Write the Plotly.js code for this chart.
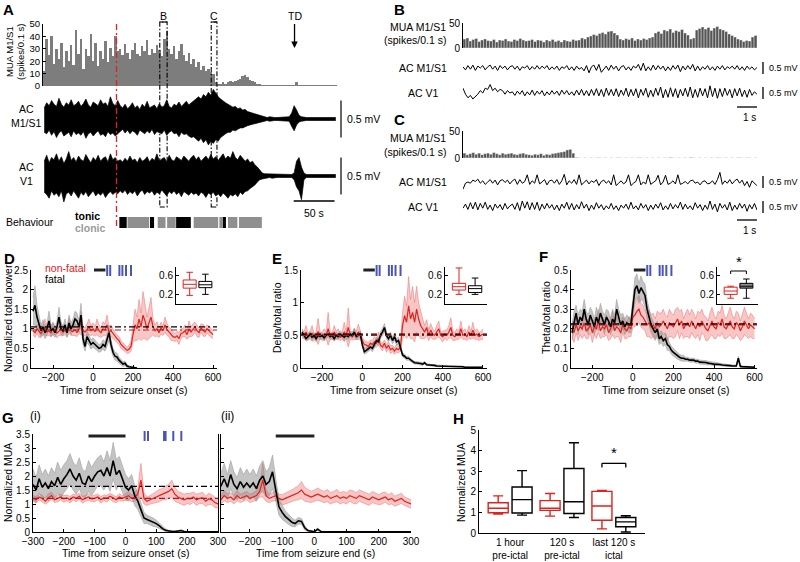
<!DOCTYPE html>
<html><head><meta charset="utf-8">
<script src="https://cdn.plot.ly/plotly-3.0.1.min.js"></script>
<style>html,body{margin:0;padding:0;background:#fff}#chart{width:800px;height:562px}</style>
</head><body><div id="chart"></div>
<script>
// ---------------- DATA ----------------
// Panel A (time in s, 3 s bins)
const A_DT = 3;
const A_onset = 90;
const A_TD = 308;
const A_winB = [143, 152];
const A_winC = [206, 213];
const A_mua = [12,38,25,40,18,30,22,35,15,28,20,33,17,45,26,38,14,30,24,42,20,35,16,28,22,36,19,31,24,40,28,
 30,25,34,27,22,29,35,26,24,32,28,37,25,30,27,33,29,24,38,44,30,26,32,22,28,34,25,20,27,18,22,15,19,13,16,12,14,11,
 10,3,2,2,3,2,3,4,3,4,5,6,8,9,7,5,4,3,
 2,1.5,1,1,0.5,1,0.5,0.5,1,0.5,0.5,0.5,1,0.5,0.5,1,3,1,0.5,0.5,0.5,0.5,0.5,0.5,0.5,0.5,0.5,1,0.5,0.5,0.5,0.5,0.5];
const A_m1_up = [0.15,0.22,0.18,0.25,0.2,0.17,0.28,0.2,0.16,0.22,0.19,0.26,0.18,0.2,0.24,0.17,0.21,0.27,0.19,0.16,0.23,0.2,0.18,0.26,0.2,0.22,0.17,0.3,0.21,0.18,0.25,
 0.18,0.15,0.2,0.14,0.17,0.22,0.15,0.18,0.13,0.2,0.16,0.24,0.15,0.17,0.19,0.14,0.21,0.16,0.18,0.26,0.17,0.15,0.2,0.18,0.23,0.17,0.2,0.24,0.19,0.22,
 0.25,0.28,0.3,0.27,0.33,0.3,0.36,0.32,0.4,0.35,0.3,0.27,0.24,0.22,0.2,
 0.18,0.16,0.17,0.14,0.15,0.12,0.13,0.1,0.09,0.08,0.06,0.05,0.04,0.03,
 0.03,0.02,0.03,0.02,0.02,0.02,0.02,0.02,0.02,0.02,0.03,0.08,0.18,0.12,0.05,0.03,0.02,0.02,0.02,0.02,0.02,0.02,0.02,0.02,0.02,0.02,0.02,0.02,0.02,0.02];
const A_m1_lo = [-0.18,-0.2,-0.15,-0.22,-0.17,-0.25,-0.19,-0.16,-0.23,-0.2,-0.18,-0.24,-0.16,-0.21,-0.19,-0.22,-0.17,-0.26,-0.2,-0.18,-0.23,-0.19,-0.16,-0.22,-0.2,-0.24,-0.17,-0.21,-0.19,-0.23,-0.2,
 -0.17,-0.14,-0.19,-0.15,-0.2,-0.16,-0.18,-0.22,-0.15,-0.17,-0.2,-0.16,-0.19,-0.14,-0.21,-0.17,-0.18,-0.2,-0.15,-0.22,-0.18,-0.16,-0.2,-0.19,-0.24,-0.18,-0.21,-0.2,-0.23,-0.25,
 -0.24,-0.27,-0.3,-0.26,-0.32,-0.28,-0.35,-0.3,-0.33,-0.28,-0.3,-0.25,-0.22,-0.2,-0.18,
 -0.18,-0.15,-0.16,-0.14,-0.12,-0.12,-0.1,-0.09,-0.08,-0.07,-0.06,-0.05,-0.04,-0.03,
 -0.03,-0.02,-0.03,-0.02,-0.02,-0.02,-0.02,-0.02,-0.02,-0.02,-0.03,-0.1,-0.16,-0.08,-0.04,-0.03,-0.02,-0.02,-0.02,-0.02,-0.02,-0.02,-0.02,-0.02,-0.02,-0.02,-0.02,-0.02,-0.02,-0.02];
const A_v1_up = [0.2,0.28,0.18,0.25,0.22,0.3,0.2,0.26,0.17,0.23,0.33,0.21,0.25,0.19,0.27,0.22,0.2,0.29,0.23,0.18,0.25,0.21,0.28,0.2,0.24,0.26,0.19,0.3,0.22,0.25,0.2,
 0.22,0.19,0.24,0.2,0.27,0.21,0.23,0.18,0.25,0.2,0.22,0.26,0.19,0.24,0.21,0.3,0.2,0.23,0.25,0.19,0.28,0.22,0.2,0.26,0.23,0.21,0.27,0.24,0.2,0.25,0.28,0.22,0.26,0.2,0.24,0.27,0.22,0.29,0.23,0.26,0.21,0.25,0.3,0.23,0.27,0.24,0.33,0.25,0.22,0.28,0.24,0.2,0.23,0.18,0.2,0.15,0.12,0.08,
 0.04,0.03,0.03,0.02,0.03,0.02,0.02,0.02,0.02,0.02,0.02,0.02,0.02,0.04,0.2,0.25,0.12,0.04,0.02,0.02,0.02,0.02,0.02,0.02,0.02,0.02,0.02,0.02,0.02,0.02,0.02];
const A_v1_lo = [-0.22,-0.25,-0.3,-0.2,-0.26,-0.23,-0.28,-0.2,-0.35,-0.24,-0.22,-0.27,-0.2,-0.25,-0.3,-0.22,-0.26,-0.21,-0.28,-0.24,-0.2,-0.27,-0.23,-0.26,-0.22,-0.29,-0.24,-0.21,-0.25,-0.22,-0.24,
 -0.2,-0.23,-0.19,-0.25,-0.21,-0.24,-0.2,-0.27,-0.22,-0.19,-0.25,-0.21,-0.23,-0.2,-0.26,-0.22,-0.24,-0.19,-0.23,-0.27,-0.21,-0.24,-0.2,-0.25,-0.22,-0.28,-0.21,-0.24,-0.26,-0.22,-0.25,-0.23,-0.27,-0.22,-0.24,-0.29,-0.23,-0.25,-0.22,-0.27,-0.24,-0.28,-0.23,-0.26,-0.3,-0.25,-0.27,-0.24,-0.28,-0.22,-0.25,-0.21,-0.2,-0.17,-0.15,-0.12,-0.08,-0.05,
 -0.04,-0.03,-0.03,-0.02,-0.03,-0.02,-0.02,-0.02,-0.02,-0.02,-0.02,-0.02,-0.02,-0.05,-0.15,-0.2,-0.32,-0.05,-0.02,-0.02,-0.02,-0.02,-0.02,-0.02,-0.02,-0.02,-0.02,-0.02,-0.02,-0.02,-0.02];
// behaviour segments (s)
const beh_start = [93.5,103.5,131,140.5,152,163,184.5,216,220,226.5,240];
const beh_end   = [102.5,130,136,150,162.5,181,214.5,219.5,224,238,268];
const beh_type  = ['tonic','clonic','tonic','clonic','clonic','tonic','clonic','clonic','tonic','clonic','clonic'];

// Panels B and C (s)
const BC_BIN = 0.147, BC_STEP = 0.1235;
const B_mua = [18,20,14,17,19,13,16,18,15,14,17,12,16,15,18,14,13,17,15,19,16,14,15,17,13,
 16,15,12,16,14,17,13,15,12,16,14,13,17,15,16,20,18,22,
 24,27,25,29,31,28,33,34,30,26,
 18,16,19,17,20,15,18,16,19,17,20,22,
 30,33,29,36,34,38,31,35,33,37,30,26,
 18,20,
 36,39,42,38,41,35,40,43,38,36,33,
 28,25,22,18,16,13,15,14,
 22,25];
const B_m1 = [0.05,-0.08,0.1,-0.05,0.12,-0.1,0.08,0.0,0.1,-0.08, 0.05,0.12,-0.05,0.08,-0.1,0.1,-0.02,0.08,-0.08,0.05, 0.1,-0.05,0.08,-0.1,0.05,0.0,0.1,-0.08,0.06,-0.05, 0.1,-0.05,0.08,-0.02,0.1,-0.08,0.05,-0.05,0.08,-0.1, 0.05,-0.02,0.1,-0.08,0.05,-0.1,0.08,-0.05,0.02,-0.12, 0.1,-0.2,0.05,0.12,-0.1,0.15,-0.18,-0.05,0.08,-0.1, 0.12,-0.05,0.08,-0.12,0.05,0.1,-0.08,0.05,-0.1,0.08, 0.0,0.15,-0.1,0.2,-0.12,0.05,-0.1,0.12,-0.08,0.1, -0.05,0.08,-0.12,0.05,-0.1,0.1,-0.05,0.12,-0.15,0.08, -0.08,0.1,-0.05,0.15,-0.12,0.08,-0.1,0.05,-0.05,0.1, -0.08,0.05,-0.1,0.08,-0.05,0.1,-0.08,0.05,-0.02,0.08, -0.05,0.1,-0.08,0.05,-0.1,0.08,-0.05,0.05,-0.08,0.02];
const B_v1 = [0.2,-0.05,-0.2,-0.1,-0.25,-0.15,-0.05,0.1,0.0,0.2, 0.15,0.35,0.1,0.2,0.05,0.15,0.1,-0.05,0.1,0.0, 0.05,-0.1,0.08,-0.05,0.1,-0.12,0.05,-0.08,0.12,-0.1, 0.08,-0.05,0.1,-0.12,0.05,-0.08,0.1,-0.05,0.08,-0.1, 0.12,-0.05,0.1,-0.08,0.05,-0.1,0.12,-0.08,0.15,-0.1, 0.1,-0.12,0.15,-0.1,0.18,-0.12,0.15,-0.15,0.2,-0.1, 0.15,-0.12,0.18,-0.15,0.12,-0.1,0.2,-0.15,0.15,-0.12, 0.18,-0.2,0.15,-0.1,0.2,-0.18,0.12,-0.15,0.2,-0.1, 0.25,-0.2,0.15,-0.18,0.22,-0.15,0.18,-0.2,0.15,-0.12, 0.2,-0.15,0.25,-0.2,0.15,-0.18,0.2,-0.12,0.18,-0.2, 0.3,-0.15,0.2,-0.22,0.18,-0.15,0.2,-0.1,0.15,-0.2, 0.18,-0.12,0.2,-0.15,0.12,-0.18,0.15,-0.1,0.05,-0.05];
const C_mua = [9,6,8,10,7,9,6,8,9,7,10,8,6,9,7,8,9,7,6,8,9,7,6,5,7,6,8,5,7,6,8,9,10,11,12,15,16,9,
 1,0.5,0,0.5,0,0.5,0,0.5,0.5,0, 0.5,0,0.5,0,0.5,0.5,0,0.5,0,0.5, 0,0.5,0.5,0,0.5,0,0.5,0,0.5,0, 0.5,0,1,0.5,0,0.5,0,0.5,0,1, 0.5,0,0.5,0,0.5,0,0.5,0,0.5,0.5, 0,0.5,0,0.5,0,0.5,0.5,0,0.5,0.5, 0,0.5];
const C_m1 = [-0.3,-0.05,0.0,-0.05,0.08,0.02,0.12,-0.05,0.05,-0.1, 0.0,0.1,-0.05,0.08,-0.12,0.05,0.1,-0.02,0.08,-0.08, 0.05,0.12,-0.1,0.1,-0.05,0.02,0.3,-0.1,0.05,-0.05, 0.3,-0.08,0.0,0.1,-0.12,0.05,0.08,-0.05,0.1,-0.1, 0.05,0.32,-0.12,0.05,-0.05,0.1,-0.1,0.3,-0.12,0.0, 0.08,-0.08,0.05,-0.02,0.1,-0.15,0.02,0.08,-0.05,0.05, -0.12,0.3,-0.15,-0.05,0.05,-0.08,0.0,0.3,-0.15,-0.05, 0.02,0.3,-0.12,0.0,-0.08,0.3,-0.1,-0.02,0.05,0.28, -0.12,0.0,0.28,-0.1,-0.05,0.05,-0.08,0.3,-0.1,-0.05, 0.02,-0.08,0.05,0.08,-0.05,0.0,-0.12,0.02,0.05,-0.08, -0.05,0.05,-0.1,0.1,0.4,-0.1,0.05,-0.05,0.1,-0.08, 0.05,0.12,-0.05,0.08,-0.15,0.02,-0.22,0.05,-0.05,-0.15];
const C_v1 = [-0.05,0.12,-0.1,0.18,-0.08,0.2,-0.12,0.15,-0.05,0.2, -0.1,0.08,-0.15,0.12,-0.05,0.1,-0.12,0.15,-0.08,0.05, 0.12,-0.1,0.18,-0.15,0.25,-0.05,0.22,-0.12,0.18,-0.1, 0.2,-0.15,0.12,-0.08,0.15,-0.05,0.1,-0.12,0.08,-0.15, 0.12,-0.05,0.2,-0.1,0.15,-0.12,0.1,-0.08,0.22,-0.05, 0.12,-0.15,0.08,-0.1,0.18,-0.05,0.1,-0.12,0.05,-0.08, 0.15,-0.1,0.05,-0.15,0.08,-0.05,0.12,-0.1,0.2,-0.08, 0.05,-0.12,0.15,-0.05,0.1,-0.15,0.08,-0.1,0.12,-0.05, 0.18,-0.12,0.05,-0.1,0.15,-0.08,0.1,-0.05,0.2,-0.1, 0.12,-0.08,0.05,-0.12,0.18,-0.05,0.1,-0.15,0.08,-0.1, 0.25,-0.1,0.12,-0.2,0.15,-0.05,0.1,-0.12,0.2,-0.15, 0.08,-0.1,0.15,-0.05,0.12,-0.18,0.1,-0.08,0.15,-0.12];
const C_tri = [3.2,3.65,5.0,5.75,7.5,8.2,8.7,9.2,9.7,10.05,10.75,12.8];

// Panels D-F (t = -300..600 s every 10 s)
const D_red_mean = [0.95,0.9,1.0,0.93,0.88,0.97,1.05,0.92,0.95,0.9,1.02,0.96,0.89,0.94,1.0,0.92,0.97,0.9,1.08,0.95,0.93,0.98,0.9,1.0,1.15,0.95,0.92,0.98,1.05,0.95,
 1.0,0.93,1.05,0.95,0.9,1.0,0.97,1.1,0.92,0.95,
 0.88,0.8,0.75,0.7,0.6,0.55,0.5,0.45,0.48,0.55,
 0.85,1.1,1.0,1.25,1.05,1.35,1.2,1.0,1.15,1.3,
 1.05,0.95,1.0,0.9,1.02,0.95,1.1,0.98,0.92,0.85,0.8,0.78,0.82,0.75,0.88,0.9,0.95,0.85,1.0,0.92,0.98,1.05,0.95,0.9,1.02,0.97,0.92,1.0,0.95,0.9,0.85];
const D_red_err = [0.1,0.12,0.1,0.15,0.1,0.12,0.2,0.1,0.12,0.1,0.15,0.1,0.12,0.1,0.18,0.1,0.12,0.1,0.2,0.12,0.1,0.15,0.1,0.12,0.3,0.12,0.1,0.15,0.2,0.12,
 0.15,0.12,0.2,0.15,0.12,0.18,0.15,0.25,0.12,0.15,
 0.12,0.1,0.1,0.1,0.1,0.08,0.08,0.08,0.1,0.12,
 0.2,0.4,0.3,0.5,0.35,0.6,0.45,0.3,0.4,0.5,
 0.2,0.15,0.18,0.12,0.15,0.12,0.2,0.15,0.12,0.15,0.12,0.1,0.12,0.15,0.12,0.1,0.15,0.12,0.2,0.12,0.15,0.12,0.15,0.12,0.1,0.15,0.12,0.1,0.12,0.1,0.1];
const D_blk_mean = [1.45,1.6,1.3,1.1,0.95,1.05,0.9,1.0,1.2,0.95,1.0,0.9,1.05,1.3,1.0,0.95,1.1,0.9,1.15,1.0,1.1,1.25,1.2,1.05,1.35,0.75,0.55,0.8,0.7,0.6,
 0.65,0.6,0.55,0.5,0.52,0.6,0.55,0.7,0.9,0.6,0.4,0.3,0.28,0.2,0.15,0.1,0.12,0.05,0.03,0.02,0.01,0,0];
const D_blk_err = [0.35,0.5,0.3,0.2,0.15,0.18,0.15,0.15,0.25,0.15,0.15,0.12,0.15,0.25,0.15,0.12,0.15,0.12,0.2,0.15,0.15,0.2,0.2,0.15,0.3,0.15,0.12,0.15,0.12,0.12,
 0.12,0.1,0.1,0.1,0.1,0.12,0.12,0.15,0.2,0.12,0.1,0.1,0.1,0.08,0.08,0.06,0.06,0.04,0.03,0.02,0.01,0,0];
const E_red_mean = [0.52,0.5,0.55,0.48,0.5,0.53,0.47,0.5,0.56,0.5,0.48,0.52,0.5,0.6,0.5,0.48,0.55,0.5,0.52,0.47,0.5,0.55,0.5,0.62,0.5,0.48,0.52,0.5,0.55,0.5,
 0.42,0.36,0.35,0.33,0.38,0.36,0.4,0.38,0.45,0.35,0.32,0.38,0.3,0.35,0.28,0.3,0.26,0.3,0.28,0.32,
 0.65,0.8,0.7,0.95,0.75,0.85,0.7,0.9,0.75,0.65,
 0.6,0.55,0.62,0.5,0.58,0.52,0.5,0.55,0.6,0.5,0.48,0.52,0.5,0.55,0.62,0.5,0.48,0.52,0.5,0.6,0.5,0.52,0.48,0.55,0.5,0.58,0.5,0.52,0.48,0.5,0.52];
const E_red_err = [0.06,0.05,0.1,0.05,0.06,0.12,0.05,0.06,0.2,0.05,0.06,0.08,0.05,0.25,0.06,0.05,0.1,0.06,0.08,0.05,0.06,0.15,0.05,0.3,0.06,0.05,0.08,0.06,0.12,0.05,
 0.05,0.06,0.05,0.06,0.05,0.06,0.08,0.06,0.1,0.05,0.06,0.05,0.06,0.05,0.06,0.05,0.05,0.06,0.05,0.06,
 0.2,0.3,0.25,0.45,0.3,0.4,0.3,0.35,0.25,0.2,
 0.15,0.1,0.12,0.08,0.1,0.08,0.06,0.1,0.12,0.06,0.08,0.06,0.08,0.1,0.15,0.08,0.06,0.08,0.06,0.12,0.06,0.08,0.06,0.1,0.06,0.12,0.06,0.08,0.06,0.06,0.08];
const E_blk_mean = [0.55,0.5,0.45,0.48,0.52,0.47,0.5,0.45,0.5,0.48,0.5,0.46,0.5,0.52,0.48,0.5,0.45,0.5,0.48,0.52,0.5,0.47,0.5,0.48,0.52,0.5,0.55,0.48,0.5,0.52,
 0.35,0.25,0.27,0.3,0.32,0.3,0.35,0.42,0.4,0.5,0.55,0.62,0.5,0.45,0.5,0.42,0.48,0.4,0.42,0.3,
 0.2,0.18,0.15,0.15,0.12,0.1,0.08,0.08,0.07,0.07,
 0.06,0.08,0.05,0.05,0.04,0.04,0.04,0.03,0.03,0.03,0.03,0.03,0.02,0.02,0.02,0.02,0.02,0.02,0.02,0.02,0.02,0.01,0.01,0.01,0.01,0.01,0.01,0.01,0.01,0.01,0.01];
const E_blk_err = [0.05,0.05,0.04,0.05,0.04,0.05,0.04,0.05,0.04,0.05,0.04,0.05,0.04,0.05,0.04,0.05,0.04,0.05,0.04,0.05,0.04,0.05,0.04,0.05,0.04,0.05,0.06,0.05,0.04,0.05,
 0.04,0.04,0.04,0.05,0.04,0.05,0.05,0.05,0.05,0.05,0.06,0.06,0.05,0.05,0.05,0.05,0.05,0.05,0.05,0.04,
 0.03,0.03,0.03,0.03,0.02,0.02,0.02,0.02,0.02,0.02,
 0.02,0.02,0.015,0.015,0.01,0.01,0.01,0.01,0.01,0.01,0.01,0.01,0.01,0.01,0.01,0.01,0.01,0.01,0.01,0.01,0.01,0.005,0.005,0.005,0.005,0.005,0.005,0.005,0.005,0.005,0.005];
const F_red_mean = [0.2,0.18,0.22,0.19,0.21,0.2,0.23,0.19,0.2,0.22,0.18,0.21,0.2,0.24,0.19,0.21,0.2,0.22,0.18,0.2,0.23,0.19,0.21,0.2,0.18,0.22,0.2,0.19,0.21,0.2,
 0.26,0.27,0.29,0.3,0.27,0.26,0.24,0.22,0.23,0.21,0.22,0.2,0.23,0.21,0.22,0.24,0.22,0.2,0.23,0.22,
 0.21,0.23,0.25,0.22,0.24,0.2,0.22,0.23,0.21,0.24,
 0.22,0.2,0.23,0.21,0.24,0.22,0.2,0.19,0.22,0.24,0.21,0.2,0.23,0.22,0.25,0.21,0.2,0.22,0.24,0.21,0.2,0.23,0.22,0.19,0.21,0.24,0.22,0.2,0.22,0.21,0.2];
const F_red_err = [0.04,0.05,0.04,0.05,0.04,0.05,0.06,0.04,0.05,0.04,0.05,0.04,0.05,0.06,0.04,0.05,0.04,0.05,0.04,0.05,0.06,0.04,0.05,0.04,0.05,0.04,0.05,0.04,0.05,0.04,
 0.05,0.06,0.06,0.07,0.06,0.06,0.05,0.06,0.07,0.06,0.06,0.05,0.06,0.07,0.06,0.06,0.05,0.06,0.07,0.06,
 0.06,0.07,0.06,0.07,0.06,0.05,0.06,0.07,0.06,0.06,
 0.06,0.05,0.06,0.07,0.06,0.05,0.06,0.05,0.06,0.07,0.06,0.05,0.06,0.06,0.07,0.06,0.05,0.06,0.07,0.06,0.05,0.06,0.06,0.05,0.06,0.07,0.06,0.05,0.06,0.06,0.05];
const F_blk_mean = [0.18,0.24,0.28,0.22,0.26,0.24,0.3,0.25,0.22,0.27,0.24,0.21,0.26,0.23,0.28,0.25,0.22,0.26,0.24,0.21,0.25,0.23,0.3,0.26,0.22,0.24,0.21,0.23,0.22,0.22,
 0.3,0.4,0.42,0.38,0.41,0.39,0.37,0.3,0.26,0.22,0.2,0.18,0.2,0.15,0.16,0.14,0.15,0.12,0.11,0.09,
 0.08,0.07,0.06,0.055,0.05,0.05,0.045,0.045,0.04,0.04,
 0.04,0.035,0.035,0.03,0.03,0.03,0.028,0.025,0.025,0.022,0.02,0.02,0.018,0.018,0.015,0.015,0.013,0.012,0.012,0.01,0.01,0.01,0.05,0.008,0.007,0.006,0.006,0.005,0.005,0.005,0.004];
const F_blk_err = [0.04,0.05,0.04,0.05,0.04,0.05,0.05,0.04,0.05,0.04,0.05,0.04,0.05,0.04,0.05,0.04,0.05,0.04,0.05,0.04,0.05,0.04,0.05,0.04,0.05,0.04,0.04,0.04,0.04,0.04,
 0.05,0.06,0.06,0.05,0.06,0.05,0.06,0.05,0.04,0.04,0.04,0.04,0.04,0.03,0.03,0.03,0.03,0.03,0.02,0.02,
 0.02,0.02,0.015,0.015,0.015,0.015,0.01,0.01,0.01,0.01,
 0.01,0.01,0.01,0.01,0.01,0.01,0.01,0.01,0.008,0.008,0.008,0.008,0.006,0.006,0.006,0.005,0.005,0.005,0.005,0.005,0.004,0.004,0.01,0.004,0.003,0.003,0.003,0.003,0.003,0.003,0.003];
const D_base = {fatal: 1.05, nonfatal: 0.97};
const E_base = {fatal: 0.52, nonfatal: 0.5};
const F_base = {fatal: 0.225, nonfatal: 0.22};
const DEF_window = [5, 62];
const DEF_deaths = [71, 86, 132, 147, 165, 190];
// inset boxes [non-fatal, fatal]: lowerfence, q1, median, q3, upperfence
const D_box = {lo:[0.18,0.2], q1:[0.33,0.34], med:[0.41,0.4], q3:[0.5,0.47], hi:[0.66,0.62]};
const E_box = {lo:[0.2,0.2], q1:[0.29,0.24], med:[0.36,0.32], q3:[0.43,0.38], hi:[0.75,0.54]};
const F_box = {lo:[0.12,0.12], q1:[0.2,0.33], med:[0.27,0.37], q3:[0.35,0.43], hi:[0.37,0.52]};

// Panel G (t = -300..300 s every 10 s)
const Gi_blk_mean = [1.7,1.5,1.9,1.6,1.75,1.55,1.8,1.65,1.95,1.7, 1.9,2.05,2.25,2.0,1.85,2.1,1.75,1.7,2.0,1.8, 2.0,2.15,2.2,2.0,2.3,2.0,2.55,2.05,2.2,1.9, 1.6,1.5,1.65,1.3,1.1,0.8,0.5,0.45,0.4,0.35, 0.3,0.22,0.12,0.06,0.03,0.02,0.02,0.03,0.05,0.02, 0.01,0.01,0.01,0.01,0.01,0.01,0.01,0.01,0.01,0.01,0.01];
const Gi_blk_err = [0.55,0.45,0.5,0.45,0.5,0.45,0.5,0.45,0.55,0.5, 0.5,0.5,0.55,0.5,0.5,0.55,0.5,0.45,0.55,0.5, 0.5,0.5,0.55,0.5,0.6,0.55,0.65,0.55,0.5,0.5, 0.45,0.4,0.4,0.35,0.3,0.25,0.2,0.15,0.15,0.15, 0.12,0.1,0.08,0.05,0.03,0.02,0.02,0.02,0.03,0.02, 0.01,0.01,0.01,0.01,0.01,0.01,0.01,0.01,0.01,0.01,0.01];
const Gi_red_mean = [1.2,1.15,1.25,1.2,1.1,1.22,1.3,1.15,1.2,1.25, 1.18,1.22,1.15,1.25,1.2,1.28,1.15,1.2,1.25,1.18, 1.2,1.25,1.15,1.22,1.2,1.28,1.2,1.15,1.25,1.2, 1.25,1.3,1.2,1.25,1.35,1.85,1.2,1.1,1.15,1.2, 1.25,1.3,1.35,1.4,1.45,1.55,1.35,1.25,1.2,1.15, 1.2,1.18,1.25,1.15,1.2,1.22,1.1,1.18,1.15,1.05,1.0];
const Gi_red_err = [0.1,0.12,0.1,0.12,0.1,0.15,0.12,0.1,0.12,0.1, 0.12,0.1,0.12,0.1,0.12,0.1,0.12,0.1,0.12,0.1, 0.12,0.1,0.12,0.1,0.12,0.1,0.12,0.1,0.12,0.1, 0.12,0.15,0.12,0.15,0.2,0.6,0.2,0.15,0.15,0.18, 0.2,0.22,0.2,0.25,0.25,0.3,0.25,0.2,0.2,0.2, 0.18,0.2,0.18,0.2,0.18,0.2,0.18,0.2,0.18,0.18,0.15];
const Gii_blk_mean = [1.7,1.65,1.9,1.6,2.05,1.7,1.55,1.8,1.6,1.75, 1.6,1.75,1.55,1.85,2.0,1.7,1.8,2.15,1.5,0.9, 0.7,0.55,0.45,0.35,0.3,0.4,0.38,0.15,0.05,0.02, 0.01,0.1,0.02,0.01,0.01,0.01,0.01,0.01,0.01,0.01, 0.01,0.01,0.01,0.01,0.01,0.01,0.01,0.01,0.01,0.01, 0.01,0.01,0.01,0.01,0.01,0.01,0.01,0.01,0.01,0.01,0.01];
const Gii_blk_err = [0.5,0.45,0.55,0.45,0.5,0.45,0.4,0.5,0.45,0.5, 0.45,0.5,0.45,0.5,0.55,0.45,0.5,0.6,0.4,0.3, 0.25,0.2,0.18,0.15,0.12,0.12,0.1,0.08,0.03,0.02, 0.01,0.05,0.01,0.01,0.01,0.01,0.01,0.01,0.01,0.01, 0.01,0.01,0.01,0.01,0.01,0.01,0.01,0.01,0.01,0.01, 0.01,0.01,0.01,0.01,0.01,0.01,0.01,0.01,0.01,0.01,0.01];
const Gii_red_mean = [1.2,1.15,1.3,1.2,1.25,1.15,1.3,1.2,1.25,1.3, 1.2,1.25,1.3,1.45,1.85,1.3,1.2,1.25,1.3,1.2, 1.15,1.2,1.25,1.3,1.35,1.4,1.5,1.35,1.3,1.25, 1.3,1.35,1.3,1.25,1.3,1.2,1.25,1.3,1.2,1.25, 1.2,1.3,1.25,1.2,1.3,1.25,1.2,1.15,1.25,1.2, 1.15,1.2,1.25,1.15,1.2,1.1,1.15,1.2,1.1,1.05,1.0];
const Gii_red_err = [0.15,0.15,0.18,0.15,0.15,0.15,0.18,0.15,0.15,0.15, 0.15,0.15,0.18,0.2,0.6,0.2,0.15,0.15,0.18,0.15, 0.18,0.2,0.2,0.2,0.22,0.25,0.3,0.25,0.22,0.2, 0.2,0.22,0.2,0.2,0.22,0.2,0.2,0.22,0.2,0.2, 0.2,0.2,0.22,0.2,0.2,0.2,0.18,0.2,0.2,0.18, 0.18,0.2,0.18,0.18,0.2,0.18,0.18,0.18,0.15,0.15,0.15];
const Gi_base = {fatal: 1.63, nonfatal: 1.2};
const G_window = [-120, 0];
const G_deaths = [62, 73, 125, 130, 155, 181];

// Panel H
const H_cats = ['1 hour<br>pre-ictal', '120 s<br>pre-ictal', 'last 120 s<br>ictal'];
const H_red = {lo:[0.92,0.82,0.2], q1:[0.98,1.1,0.62], med:[1.2,1.2,1.31], q3:[1.47,1.57,2.02], hi:[1.8,1.92,2.07]};
const H_blk = {lo:[0.87,0.75,0.05], q1:[0.97,0.95,0.3], med:[1.62,1.52,0.54], q3:[2.23,3.13,0.75], hi:[3.03,4.38,0.84]};

// ---------------- DRAWING ----------------
const FONT = 'Liberation Sans, Arial, Helvetica, sans-serif';
const RED = '#e3201b', RED_BAND = 'rgba(238,105,105,0.38)', RED_EDGE = 'rgba(236,120,120,0.9)';
const GRAY_BAND = 'rgba(125,125,125,0.45)', GRAY_EDGE = '#a0a0a0';
const BLUE = '#4a55b5';
const X = p => p / 800, Y = p => 1 - p / 562;
const hd = (a, b) => [X(a), X(b)];
const vd = (top, bot) => [Y(bot), Y(top)];

const traces = [];
const tA = A_mua.map((_, i) => i * A_DT + A_DT / 2);
const tBbin = B_mua.map((_, i) => (i + 0.5) * BC_BIN);
const tBtr = B_m1.map((_, i) => i * BC_STEP);
const tDEF = D_red_mean.map((_, i) => -300 + 10 * i);
const tG = Gi_blk_mean.map((_, i) => -300 + 10 * i);

function env(x, up, lo, xa, ya) {
  traces.push({type:'scatter', mode:'lines', x:x, y:up, xaxis:xa, yaxis:ya, line:{color:'#000', width:0.7}, hoverinfo:'skip'});
  traces.push({type:'scatter', mode:'lines', x:x, y:lo, xaxis:xa, yaxis:ya, line:{color:'#000', width:0.7}, fill:'tonexty', fillcolor:'#000', hoverinfo:'skip'});
}
function band(x, m, e, xa, ya, fc, ec) {
  const up = m.map((v, i) => v + e[i]), lo = m.map((v, i) => v - e[i]);
  traces.push({type:'scatter', mode:'lines', x:x, y:up, xaxis:xa, yaxis:ya, line:{color:ec, width:0.6}, hoverinfo:'skip'});
  traces.push({type:'scatter', mode:'lines', x:x, y:lo, xaxis:xa, yaxis:ya, line:{color:ec, width:0.6}, fill:'tonexty', fillcolor:fc, hoverinfo:'skip'});
}
function line(x, y, xa, ya, c, w) {
  traces.push({type:'scatter', mode:'lines', x:x, y:y, xaxis:xa, yaxis:ya, line:{color:c, width:w}, hoverinfo:'skip'});
}
function boxes(pos, b, idx, xa, ya, c, fill, w, lw) {
  traces.push({type:'box', orientation:'v', x:pos, q1:idx.map(i=>b.q1[i]), median:idx.map(i=>b.med[i]), q3:idx.map(i=>b.q3[i]),
    lowerfence:idx.map(i=>b.lo[i]), upperfence:idx.map(i=>b.hi[i]), width:w, whiskerwidth:0.5, boxpoints:false,
    line:{color:c, width:lw}, fillcolor:fill, xaxis:xa, yaxis:ya, hoverinfo:'skip'});
}

// A
traces.push({type:'bar', x:tA, y:A_mua, width:A_DT, marker:{color:'#7d7d7d', line:{width:0}}, xaxis:'x', yaxis:'y', hoverinfo:'skip'});
env(tA, A_m1_up, A_m1_lo, 'x', 'y2');
env(tA, A_v1_up, A_v1_lo, 'x', 'y3');
// B
traces.push({type:'bar', x:tBbin, y:B_mua, width:BC_BIN, marker:{color:'#555', line:{width:0.4, color:'#fff'}}, xaxis:'x2', yaxis:'y4', hoverinfo:'skip'});
line(tBtr, B_m1, 'x2', 'y5', '#000', 1);
line(tBtr, B_v1, 'x2', 'y6', '#000', 1);
// C
traces.push({type:'bar', x:tBbin, y:C_mua, width:BC_BIN, marker:{color:'#555', line:{width:0.4, color:'#fff'}}, xaxis:'x3', yaxis:'y7', hoverinfo:'skip'});
line(tBtr, C_m1, 'x3', 'y8', '#000', 1);
line(tBtr, C_v1, 'x3', 'y9', '#000', 1);
traces.push({type:'scatter', mode:'markers', x:C_tri, y:C_tri.map(() => 0.85), xaxis:'x3', yaxis:'y8', cliponaxis:false,
  marker:{symbol:'triangle-down', size:6, color:'#000'}, hoverinfo:'skip'});
// D E F
const tDblk = tDEF.slice(0, D_blk_mean.length);
band(tDEF, D_red_mean, D_red_err, 'x4', 'y10', RED_BAND, RED_EDGE);
band(tDblk, D_blk_mean, D_blk_err, 'x4', 'y10', GRAY_BAND, GRAY_EDGE);
line(tDEF, D_red_mean, 'x4', 'y10', RED, 1.2);
line(tDblk, D_blk_mean, 'x4', 'y10', '#000', 1.6);
band(tDEF, E_red_mean, E_red_err, 'x5', 'y11', RED_BAND, RED_EDGE);
band(tDEF, E_blk_mean, E_blk_err, 'x5', 'y11', GRAY_BAND, GRAY_EDGE);
line(tDEF, E_red_mean, 'x5', 'y11', RED, 1.2);
line(tDEF, E_blk_mean, 'x5', 'y11', '#000', 1.6);
band(tDEF, F_red_mean, F_red_err, 'x6', 'y12', RED_BAND, RED_EDGE);
band(tDEF, F_blk_mean, F_blk_err, 'x6', 'y12', GRAY_BAND, GRAY_EDGE);
line(tDEF, F_red_mean, 'x6', 'y12', RED, 1.2);
line(tDEF, F_blk_mean, 'x6', 'y12', '#000', 1.6);
// insets
const INS_POS = [1.0, 2.15];
[[D_box,'x7','y13','#fff'],[E_box,'x8','y14','#fff'],[F_box,'x9','y15','#8e8e8e']].forEach(([b, xa, ya, bf]) => {
  boxes([INS_POS[0]], b, [0], xa, ya, RED, '#fff', 0.95, 1);
  boxes([INS_POS[1]], b, [1], xa, ya, '#000', bf, 0.95, 1);
});
// G
band(tG, Gi_red_mean, Gi_red_err, 'x10', 'y16', RED_BAND, RED_EDGE);
band(tG, Gi_blk_mean, Gi_blk_err, 'x10', 'y16', GRAY_BAND, GRAY_EDGE);
line(tG, Gi_red_mean, 'x10', 'y16', RED, 1.2);
line(tG, Gi_blk_mean, 'x10', 'y16', '#000', 1.6);
band(tG, Gii_red_mean, Gii_red_err, 'x11', 'y17', RED_BAND, RED_EDGE);
band(tG, Gii_blk_mean, Gii_blk_err, 'x11', 'y17', GRAY_BAND, GRAY_EDGE);
line(tG, Gii_red_mean, 'x11', 'y17', RED, 1.2);
line(tG, Gii_blk_mean, 'x11', 'y17', '#000', 1.6);
// H
const H_pos = [1, 2, 3], H_OFF = 0.23;
boxes(H_pos.map(p => p - H_OFF), H_red, [0,1,2], 'x12', 'y18', RED, 'rgba(255,255,255,0)', 0.386, 1.4);
boxes(H_pos.map(p => p + H_OFF), H_blk, [0,1,2], 'x12', 'y18', '#000', 'rgba(255,255,255,0)', 0.386, 1.4);

// ---------------- LAYOUT ----------------
function ax(o) {
  return Object.assign({showgrid:false, zeroline:false, showline:true, linecolor:'#000', linewidth:1, ticks:'inside', ticklen:3,
    tickcolor:'#000', tickfont:{family:FONT, size:10, color:'#000'}, fixedrange:true}, o);
}
const hid = o => Object.assign({visible:false, fixedrange:true}, o);

const layout = {
  width:800, height:562, margin:{l:0, r:0, t:0, b:0}, paper_bgcolor:'#fff', plot_bgcolor:'rgba(0,0,0,0)',
  showlegend:false, bargap:0, font:{family:FONT, size:10, color:'#000'},
  xaxis: hid({domain:hd(43,337), range:[0,360], anchor:'y'}),
  yaxis: ax({domain:vd(24,86), range:[0,50], tickvals:[0,10,20,30,40,50], anchor:'x', tickfont:{family:FONT, size:9.5, color:'#000'}}),
  yaxis2: hid({domain:vd(82,156), range:[-0.5,0.5], anchor:'x'}),
  yaxis3: hid({domain:vd(139,213), range:[-0.5,0.5], anchor:'x'}),
  xaxis2: hid({domain:hd(463,757), range:[0,14.7], anchor:'y4'}),
  yaxis4: ax({domain:vd(23,48), range:[0,50], tickvals:[0,50], anchor:'x2'}),
  yaxis5: hid({domain:vd(50,86), range:[-0.75,0.75], anchor:'x2'}),
  yaxis6: hid({domain:vd(75,111), range:[-0.75,0.75], anchor:'x2'}),
  xaxis3: hid({domain:hd(463,757), range:[0,14.7], anchor:'y7'}),
  yaxis7: ax({domain:vd(131,158), range:[0,50], tickvals:[0,50], anchor:'x3'}),
  yaxis8: hid({domain:vd(164,200), range:[-0.75,0.75], anchor:'x3'}),
  yaxis9: hid({domain:vd(189,225), range:[-0.75,0.75], anchor:'x3'}),
  xaxis4: ax({domain:hd(31,217), range:[-310,620], tickvals:[-200,0,200,400,600], anchor:'y10'}),
  yaxis10: ax({domain:vd(270,368), range:[0,2.5], dtick:0.5, anchor:'x4'}),
  xaxis5: ax({domain:hd(301,487), range:[-305,620], tickvals:[-200,0,200,400,600], anchor:'y11'}),
  yaxis11: ax({domain:vd(270,368), range:[0,1.5], dtick:0.5, anchor:'x5'}),
  xaxis6: ax({domain:hd(571,757), range:[-305,612], tickvals:[-200,0,200,400,600], anchor:'y12'}),
  yaxis12: ax({domain:vd(270,368), range:[0,0.5], dtick:0.1, anchor:'x6'}),
  xaxis7: ax({domain:hd(176,217), range:[0,3], ticks:'', showticklabels:false, anchor:'y13'}),
  yaxis13: ax({domain:vd(267,304), range:[0,0.77], tickvals:[0.2,0.6], anchor:'x7'}),
  xaxis8: ax({domain:hd(445,487), range:[0,3], ticks:'', showticklabels:false, anchor:'y14'}),
  yaxis14: ax({domain:vd(267,304), range:[0,0.77], tickvals:[0.2,0.6], anchor:'x8'}),
  xaxis9: ax({domain:hd(717,758), range:[0,3], ticks:'', showticklabels:false, anchor:'y15'}),
  yaxis15: ax({domain:vd(267,304), range:[0,0.77], tickvals:[0.2,0.6], anchor:'x9'}),
  xaxis10: ax({domain:hd(33,218), range:[-300,300], dtick:100, anchor:'y16'}),
  yaxis16: ax({domain:vd(434,532), range:[0,3.5], dtick:0.5, mirror:true, anchor:'x10'}),
  xaxis11: ax({domain:hd(221,411), range:[-290,300], tickvals:[-200,-100,0,100,200,300], anchor:'y17'}),
  yaxis17: ax({domain:vd(434,532), range:[0,3.5], dtick:0.5, showticklabels:false, anchor:'x11'}),
  xaxis12: ax({domain:hd(479,645), range:[0.4,3.6], tickvals:H_pos, ticktext:H_cats, ticks:'', anchor:'y18'}),
  yaxis18: ax({domain:vd(430,533), range:[0,5], dtick:1, anchor:'x12'}),
  annotations: [], shapes: []
};

const A = layout.annotations, S = layout.shapes;
function txt(t, x, y, o) {
  A.push(Object.assign({text:t, xref:'paper', yref:'paper', x:X(x), y:Y(y), xanchor:'center', yanchor:'middle', showarrow:false,
    font:{family:FONT, size:10.5, color:'#000'}}, o || {}));
}
function hline(xref, x0, x1, yp, c, w, dash) { S.push({type:'line', xref:xref, yref:'paper', x0:x0, x1:x1, y0:Y(yp), y1:Y(yp), line:{color:c, width:w, dash:dash||'solid'}}); }
function vline(xref, xv, y0p, y1p, c, w, dash) { S.push({type:'line', xref:xref, yref:'paper', x0:xv, x1:xv, y0:Y(y0p), y1:Y(y1p), line:{color:c, width:w, dash:dash||'solid'}}); }

// panel letters
[['A',8,9],['B',399,9],['C',399,120],['D',9,258],['E',277,258],['F',543,256],['G',8,417],['H',458,418]].forEach(([l,x,y]) =>
  txt('<b>'+l+'</b>', x, y, {font:{family:FONT, size:15, color:'#000'}}));
txt('(i)', 35, 416, {font:{family:FONT, size:12}});
txt('(ii)', 227, 416, {font:{family:FONT, size:12}});

// A annotations
txt('MUA M1/S1', 9, 52, {textangle:-90, font:{family:FONT, size:9.5}});
txt('(spikes/0.1 s)', 20, 52, {textangle:-90, font:{family:FONT, size:9.5}});
txt('AC<br>M1/S1', 26, 116);
txt('AC<br>V1', 26, 174);
txt('Behaviour', 4, 222, {xanchor:'left'});
txt('<b>tonic</b>', 73, 216, {xanchor:'left'});
txt('<b>clonic</b>', 73, 228, {xanchor:'left', font:{family:FONT, size:10.5, color:'#9a9a9a'}});
txt('0.5 mV', 345, 119, {xanchor:'left'});
txt('0.5 mV', 345, 176, {xanchor:'left'});
txt('50 s', 314, 213);
txt('B', 0, 16, {xref:'x', x:(A_winB[0]+A_winB[1])/2, font:{family:FONT, size:10.5}});
txt('C', 0, 16, {xref:'x', x:(A_winC[0]+A_winC[1])/2, font:{family:FONT, size:10.5}});
A.push({text:'TD', xref:'x', yref:'paper', x:A_TD, y:Y(48), ax:0, ay:-24, axref:'pixel', ayref:'pixel', showarrow:true,
  arrowhead:2, arrowsize:1, arrowwidth:1.3, arrowcolor:'#000', standoff:0, font:{family:FONT, size:10.5}, yanchor:'bottom'});
// onset line
vline('x', A_onset, 24, 229, RED, 1.3, '6px,3px,2px,3px');
// B/C windows
[A_winB, A_winC].forEach(w => {
  S.push({type:'rect', xref:'x', yref:'paper', x0:w[0], x1:w[1], y0:Y(207), y1:Y(22), line:{color:'#000', width:1.1, dash:'5px,2px,1.5px,2px'}});
  hline('x', w[0], w[1], 22, '#000', 1.1);
});
// behaviour bar
beh_start.forEach((s, i) => S.push({type:'rect', xref:'x', yref:'paper', x0:s, x1:beh_end[i], y0:Y(228), y1:Y(217),
  line:{width:0}, fillcolor: beh_type[i] === 'tonic' ? '#000' : '#8f8f8f'}));
// A scale bars
S.push({type:'line', xref:'paper', yref:'y2', x0:X(341), x1:X(341), y0:-0.25, y1:0.25, line:{color:'#000', width:1.2}});
S.push({type:'line', xref:'paper', yref:'y3', x0:X(341), x1:X(341), y0:-0.25, y1:0.25, line:{color:'#000', width:1.2}});
hline('x', 307, 357, 201, '#000', 1.3);

// B/C text + scale bars
[[27,40,68,93,'y5','y6',107,117],[138,152,182,207,'y8','y9',220,230]].forEach(([m1,m2,a1,a2,ya,yb,sb,st]) => {
  txt('MUA M1/S1', 448, m1, {xanchor:'right'});
  txt('(spikes/0.1 s)', 448, m2, {xanchor:'right'});
  txt('AC M1/S1', 423, a1);
  txt('AC V1', 423, a2);
  txt('0.5 mV', 767, a1, {xanchor:'left', font:{family:FONT, size:9}});
  txt('0.5 mV', 767, a2, {xanchor:'left', font:{family:FONT, size:9}});
  S.push({type:'line', xref:'paper', yref:ya, x0:X(763), x1:X(763), y0:-0.25, y1:0.25, line:{color:'#000', width:1.3}});
  S.push({type:'line', xref:'paper', yref:yb, x0:X(763), x1:X(763), y0:-0.25, y1:0.25, line:{color:'#000', width:1.3}});
  S.push({type:'line', xref:'x2', yref:'paper', x0:13.7, x1:14.7, y0:Y(sb), y1:Y(sb), line:{color:'#000', width:1.3}});
  txt('1 s', 749, st, {font:{family:FONT, size:10}});
});

// D-F titles
txt('Time from seizure onset (s)', 123, 390);
txt('Time from seizure onset (s)', 393, 390);
txt('Time from seizure onset (s)', 665, 390);
txt('Normalized total power', 8, 318, {textangle:-90});
txt('Delta/total ratio', 277, 318, {textangle:-90});
txt('Theta/total ratio', 546, 318, {textangle:-90});
txt('non-fatal', 43, 268, {xanchor:'left', font:{family:FONT, size:10.5, color:RED}});
txt('fatal', 43, 279, {xanchor:'left'});
// baselines
[['x4','y10',D_base],['x5','y11',E_base],['x6','y12',F_base]].forEach(([xa,ya,b]) => {
  S.push({type:'line', xref:xa+' domain', yref:ya, x0:0, x1:1, y0:b.nonfatal, y1:b.nonfatal, line:{color:'#b3151a', width:1.2, dash:'6px,3px,2px,3px'}});
  S.push({type:'line', xref:xa+' domain', yref:ya, x0:0, x1:1, y0:b.fatal, y1:b.fatal, line:{color:'#000', width:1.2, dash:'6px,3px,2px,3px'}});
  hline(xa, DEF_window[0], DEF_window[1], 270, '#222', 3);
  DEF_deaths.forEach(t => vline(xa, t, 276, 265, BLUE, 2));
});
// F significance
S.push({type:'line', xref:'x9', yref:'paper', x0:INS_POS[0], x1:INS_POS[1], y0:Y(271), y1:Y(271), line:{color:'#000', width:1}});
S.push({type:'line', xref:'x9', yref:'paper', x0:INS_POS[0], x1:INS_POS[0], y0:Y(271), y1:Y(274), line:{color:'#000', width:1}});
S.push({type:'line', xref:'x9', yref:'paper', x0:INS_POS[1], x1:INS_POS[1], y0:Y(271), y1:Y(274), line:{color:'#000', width:1}});
A.push({text:'*', xref:'x9', yref:'paper', x:(INS_POS[0]+INS_POS[1])/2, y:Y(262), showarrow:false, font:{family:FONT, size:15}, yanchor:'middle'});

// G
S.push({type:'line', xref:'x10 domain', yref:'y16', x0:0, x1:1, y0:Gi_base.nonfatal, y1:Gi_base.nonfatal, line:{color:'#b3151a', width:1.2, dash:'6px,3px,2px,3px'}});
S.push({type:'line', xref:'x10 domain', yref:'y16', x0:0, x1:1, y0:Gi_base.fatal, y1:Gi_base.fatal, line:{color:'#000', width:1.2, dash:'6px,3px,2px,3px'}});
hline('x10', G_window[0], G_window[1], 436, '#222', 3);
hline('x11', G_window[0], G_window[1], 436, '#222', 3);
G_deaths.forEach(t => vline('x10', t, 441, 431, BLUE, 2));
txt('Time from seizure onset (s)', 125, 553);
txt('Time from seizure end (s)', 315, 553);
txt('Normalized MUA', 8, 483, {textangle:-90});

// H
txt('Normalized MUA', 461, 483, {textangle:-90});
S.push({type:'line', xref:'x12', yref:'y18', x0:3-H_OFF, x1:3+H_OFF, y0:3.38, y1:3.38, line:{color:'#000', width:1.3}});
S.push({type:'line', xref:'x12', yref:'y18', x0:3-H_OFF, x1:3-H_OFF, y0:3.38, y1:3.18, line:{color:'#000', width:1.3}});
S.push({type:'line', xref:'x12', yref:'y18', x0:3+H_OFF, x1:3+H_OFF, y0:3.38, y1:3.18, line:{color:'#000', width:1.3}});
A.push({text:'*', xref:'x12', yref:'y18', x:3, y:3.9, showarrow:false, font:{family:FONT, size:15}, yanchor:'middle'});

Plotly.newPlot('chart', traces, layout, {displayModeBar:false, staticPlot:true});
</script></body></html>
